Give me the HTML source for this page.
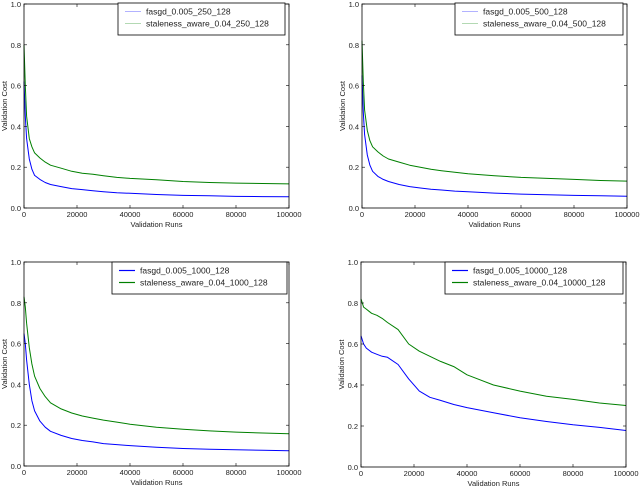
<!DOCTYPE html>
<html><head><meta charset="utf-8"><style>
body{margin:0;background:#fff;font-family:"Liberation Sans",sans-serif}
svg text{font-family:"Liberation Sans",sans-serif;font-size:7.5px;fill:#222}
</style></head><body>
<svg id="c" width="640" height="486" xmlns="http://www.w3.org/2000/svg"></svg>
<script>
const xTicks=[0,20000,40000,60000,80000,100000];
const yTicks=[0.0,0.2,0.4,0.6,0.8,1.0];
const xs=[0,500,1000,2000,3000,4000,6000,8000,10000,14000,18000,22000,26000,30000,35000,40000,50000,60000,70000,80000,90000,100000];
const fasgd250=[0.62,0.45,0.34,0.24,0.19,0.16,0.14,0.125,0.115,0.105,0.095,0.09,0.085,0.08,0.075,0.072,0.066,0.062,0.06,0.057,0.056,0.055];
const stale250=[0.80,0.6,0.45,0.34,0.3,0.27,0.245,0.225,0.21,0.195,0.18,0.17,0.165,0.158,0.15,0.145,0.138,0.13,0.125,0.122,0.12,0.118];
const fasgd500=[0.65,0.47,0.36,0.26,0.21,0.18,0.155,0.14,0.13,0.115,0.105,0.098,0.092,0.088,0.083,0.08,0.073,0.068,0.065,0.062,0.06,0.058];
const stale500=[0.82,0.62,0.48,0.38,0.33,0.3,0.275,0.255,0.24,0.225,0.21,0.2,0.19,0.183,0.175,0.168,0.158,0.15,0.145,0.14,0.135,0.132];
const fasgd1000=[0.65,0.6,0.52,0.4,0.32,0.27,0.22,0.19,0.17,0.15,0.135,0.125,0.118,0.11,0.105,0.1,0.092,0.086,0.082,0.08,0.077,0.075];
const stale1000=[0.83,0.78,0.7,0.58,0.5,0.44,0.38,0.34,0.31,0.28,0.26,0.245,0.235,0.225,0.215,0.205,0.19,0.18,0.172,0.166,0.162,0.158];
const fasgd10000=[0.64,0.62,0.6,0.58,0.57,0.56,0.55,0.54,0.535,0.5,0.43,0.37,0.34,0.325,0.305,0.29,0.265,0.24,0.222,0.206,0.193,0.178];
const stale10000=[0.82,0.8,0.78,0.77,0.76,0.75,0.74,0.725,0.705,0.67,0.6,0.565,0.54,0.515,0.49,0.45,0.4,0.37,0.345,0.33,0.312,0.3];
const panels=[
 {l:24,r:289,t:4,b:208,leg:[118,3,167],labels:["fasgd_0.005_250_128","staleness_aware_0.04_250_128"],s:[fasgd250,stale250],faint:true},
 {l:362,r:627,t:4,b:208,leg:[455,3,168],labels:["fasgd_0.005_500_128","staleness_aware_0.04_500_128"],s:[fasgd500,stale500],faint:true},
 {l:24,r:289,t:262,b:466,leg:[112,262,175],labels:["fasgd_0.005_1000_128","staleness_aware_0.04_1000_128"],s:[fasgd1000,stale1000]},
 {l:361,r:626,t:262,b:467,leg:[445,262,178],labels:["fasgd_0.005_10000_128","staleness_aware_0.04_10000_128"],s:[fasgd10000,stale10000]}
];
const svg=document.getElementById('c');
const NS="http://www.w3.org/2000/svg";
function mk(tag,attrs,parent){const e=document.createElementNS(NS,tag);for(const k in attrs)e.setAttribute(k,attrs[k]);parent.appendChild(e);return e;}
const cols=["#0000ff","#008000"];
panels.forEach((p,i)=>{
 const g=mk('g',{},svg);
 
 
 const sx=v=>p.l+(v/100000)*(p.r-p.l);
 const sy=v=>p.b-v*(p.b-p.t);
 p.s.forEach((arr,k)=>{
  const d=arr.map((v,j)=>(j?'L':'M')+sx(xs[j]).toFixed(1)+' '+sy(v).toFixed(1)).join(' ');
  const path=mk('path',{d:d,fill:'none',stroke:cols[k],'stroke-width':1,'stroke-linejoin':'round'},g);
  
  
 });
 const frame=mk('rect',{x:p.l,y:p.t,width:p.r-p.l,height:p.b-p.t,fill:'none',stroke:'#000','stroke-width':0.8},g);
 
 
 xTicks.forEach(v=>{
  const x=sx(v);
  mk('line',{x1:x,x2:x,y1:p.b,y2:p.b-3,stroke:'#000','stroke-width':0.6},g);
  mk('line',{x1:x,x2:x,y1:p.t,y2:p.t+3,stroke:'#000','stroke-width':0.6},g);
  const t=mk('text',{x:x,y:p.b+9,'text-anchor':'middle'},g);t.textContent=v;
  
  
 });
 yTicks.forEach(v=>{
  const y=sy(v);
  mk('line',{x1:p.l,x2:p.l+3,y1:y,y2:y,stroke:'#000','stroke-width':0.6},g);
  mk('line',{x1:p.r,x2:p.r-3,y1:y,y2:y,stroke:'#000','stroke-width':0.6},g);
  const t=mk('text',{x:p.l-3,y:y+3,'text-anchor':'end'},g);t.textContent=v.toFixed(1);
  
  
 });
 const xt=mk('text',{x:(p.l+p.r)/2,y:p.b+19,'text-anchor':'middle'},g);xt.textContent='Validation Runs';
 
 
 const yx=p.l-17,yy=(p.t+p.b)/2;
 const yt=mk('text',{x:yx,y:yy,'text-anchor':'middle',transform:`rotate(-90 ${yx} ${yy})`},g);yt.textContent='Validation Cost';
 
 
 const [lx,ly,lw]=p.leg;
 const lg=mk('g',{},g);
 
 
 mk('rect',{x:lx,y:ly,width:lw,height:32,fill:'#fff',stroke:'#000','stroke-width':0.8},lg);
 p.labels.forEach((lab,k)=>{
  const y=ly+11+k*12;
  mk('line',{x1:lx+7,x2:lx+23,y1:y-2.5,y2:y-2.5,stroke:cols[k],'stroke-width':p.faint?0.6:1.2,'stroke-opacity':p.faint?0.5:1},lg);
  const t=mk('text',{x:lx+28,y:y+0.5,'font-size':'8.5px'},lg);t.textContent=lab;t.style.fontSize='8.5px';
  
  
 });
});
</script>
</body></html>
